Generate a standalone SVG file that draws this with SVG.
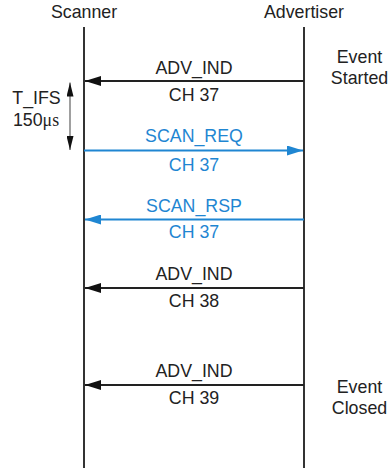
<svg xmlns="http://www.w3.org/2000/svg" width="390" height="471" viewBox="0 0 390 471">
<defs>
<style>
text{font-family:"Liberation Sans",Arial,sans-serif;font-size:17.8px;fill:#222;text-anchor:middle}
.b{fill:#1f86d2}
.life{stroke:#333;stroke-width:2}
.msg{stroke:#222;stroke-width:2;fill:none}
.msgb{stroke:#1f86d2;stroke-width:2;fill:none}
</style>
<marker id="ak" viewBox="0 0 16 10" refX="16" refY="5" markerWidth="16" markerHeight="10" markerUnits="userSpaceOnUse" orient="auto"><path d="M0,0L16,5L0,10z" fill="#111"/></marker>
<marker id="ab" viewBox="0 0 16 10" refX="16" refY="5" markerWidth="16" markerHeight="10" markerUnits="userSpaceOnUse" orient="auto"><path d="M0,0L16,5L0,10z" fill="#1f86d2"/></marker>
<marker id="as" viewBox="0 0 14 7" refX="14" refY="3.5" markerWidth="14" markerHeight="7" markerUnits="userSpaceOnUse" orient="auto"><path d="M0,0L14,3.5L0,7z" fill="#111"/></marker>
</defs>
<g id="scanner"><text x="84" y="18.3">Scanner</text><line class="life" x1="84" y1="27" x2="84" y2="468"/></g>
<g id="advertiser"><text x="304" y="18.3">Advertiser</text><line class="life" x1="304" y1="27" x2="304" y2="468"/></g>
<g id="event-started"><text x="359.5" y="62.7">Event</text><text x="359.5" y="84">Started</text></g>
<g id="event-closed"><text x="359.5" y="392.7">Event</text><text x="359.5" y="414">Closed</text></g>
<g id="tifs"><text x="36.5" y="104.3">T_IFS</text><text x="36" y="126">150<tspan font-family="'Liberation Serif',serif">μs</tspan></text></g>
<g id="connectors">
<line x1="70" y1="116" x2="70" y2="82.5" stroke="#888" stroke-width="1.6" marker-end="url(#as)"/>
<line x1="70" y1="116" x2="70" y2="150" stroke="#888" stroke-width="1.6" marker-end="url(#as)"/>
<line class="msg" x1="304" y1="81" x2="85" y2="81" marker-end="url(#ak)"/>
<line class="msgb" x1="84" y1="150.5" x2="303" y2="150.5" marker-end="url(#ab)"/>
<line class="msgb" x1="304" y1="219.5" x2="85" y2="219.5" marker-end="url(#ab)"/>
<line class="msg" x1="304" y1="288" x2="85" y2="288" marker-end="url(#ak)"/>
<line class="msg" x1="304" y1="385" x2="85" y2="385" marker-end="url(#ak)"/>
</g>
<g id="labels">
<text x="194" y="74.3">ADV_IND</text><text x="194" y="100.7">CH 37</text>
<text class="b" x="194" y="142">SCAN_REQ</text><text class="b" x="194" y="171">CH 37</text>
<text class="b" x="194" y="211.7">SCAN_RSP</text><text class="b" x="194" y="238.3">CH 37</text>
<text x="194" y="280">ADV_IND</text><text x="194" y="306.7">CH 38</text>
<text x="194" y="376.7">ADV_IND</text><text x="194" y="404">CH 39</text>
</g>
</svg>
